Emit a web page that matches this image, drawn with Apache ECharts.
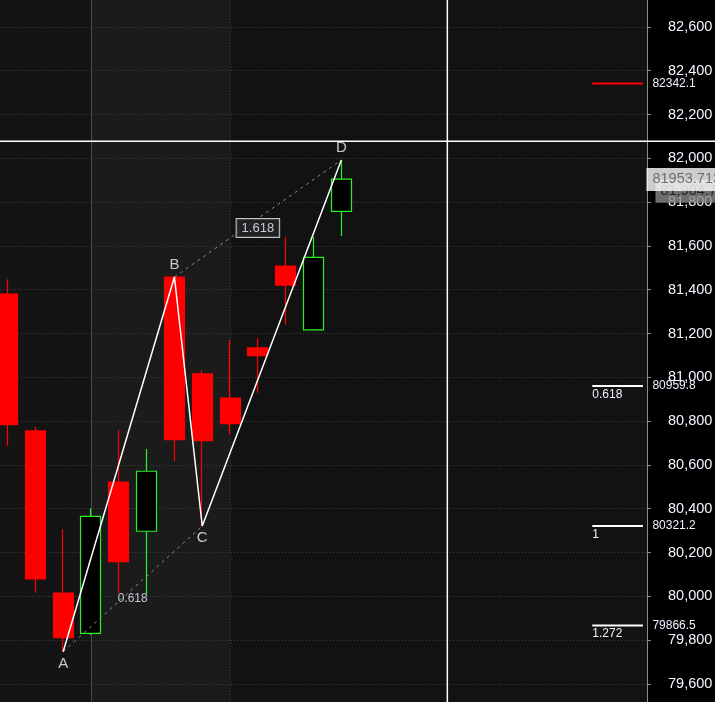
<!DOCTYPE html>
<html><head><meta charset="utf-8">
<script src="https://cdn.jsdelivr.net/npm/echarts@6/dist/echarts.min.js"></script>
<style>html,body{margin:0;padding:0;background:#000;}#c{width:715px;height:702px;}</style>
</head><body><div id="c"></div>
<script>
// ---- data ----
const candleIndex = [0,1,2,3,4,5,6,7,8,9,10,11,12];
const opens  = [81380, 80755, 80015, 79831, 80522, 80297, 81458, 81016, 80905, 81134, 81508, 81217, 81758];
const closes = [80784, 80080, 79811, 80365, 80158, 80571, 80715, 80711, 80788, 81099, 81421, 81548, 81904.7];
const lows   = [80688, 80016, 79747, 79823, 80014, 80009, 80618, 80321, 80738, 80930, 81240, 81217, 81645];
const highs  = [81448, 80773, 80307, 80402, 80759, 80673, 81458, 81033, 81170, 81179, 81641, 81641, 81992];

const patternNames = ['A','B','C','D'];
const patternIdx = [2, 6, 7, 12];
const patternVals = [lows[2], highs[6], lows[7], highs[12]];
const ratioTexts = ['0.618', '1.618'];

const levelValues = [82342.1, 80959.8, 80321.2, 79866.5];
const levelTexts  = ['82342.1', '80959.8', '80321.2', '79866.5'];
const levelRatios = ['', '0.618', '1', '1.272'];

const separators = [3, 8];
const crosshairX = 15.81;
const crosshairY = 82077.6;
const cursorValue = 81953.713;
const lastPrice = closes[closes.length - 1];

const yMin = 79400, yMax = 82800, yStep = 200;
const xMin = -0.2696, xMax = 22.987;
const levelX0 = 21.02, levelX1 = 22.84;

// ---- chart ----
const chart = echarts.init(document.getElementById('c'), null, {renderer: 'canvas'});
const FONT = 'Liberation Sans, Arial, sans-serif';
const TXT = '#eef2ff';

const series = [];

// candles + bands + separators
series.push({
  type: 'candlestick', xAxisIndex: 0, yAxisIndex: 0, z: 3, barWidth: 20.5, clip: true, silent: true,
  data: candleIndex.map((x, i) => [x, opens[i], closes[i], lows[i], highs[i]]),
  itemStyle: {color: '#000000', color0: '#ff0000', borderColor: '#2af02a', borderColor0: '#ff0000', borderWidth: 1.2},
  markArea: {
    silent: true, z: 1,
    data: [
      [{xAxis: xMin, itemStyle: {color: '#141414'}}, {xAxis: separators[0]}],
      [{xAxis: separators[0], itemStyle: {color: '#1b1b1b'}}, {xAxis: separators[1]}],
      [{xAxis: separators[1], itemStyle: {color: '#121212'}}, {xAxis: xMax}]
    ]
  },
  markLine: {
    silent: true, symbol: 'none', z: 2, label: {show: false},
    data: [
      {xAxis: separators[0], lineStyle: {color: '#4a4a4a', type: 'solid', width: 1}},
      {xAxis: separators[1], lineStyle: {color: '#4a4a4a', type: [1, 2], width: 1}}
    ]
  }
});

// dashed A-C and B-D
[[0, 2], [1, 3]].forEach(([a, b]) => {
  series.push({
    type: 'line', xAxisIndex: 0, yAxisIndex: 0, z: 4, silent: true, symbol: 'none',
    data: [[patternIdx[a], patternVals[a]], [patternIdx[b], patternVals[b]]],
    lineStyle: {color: '#8a8a8a', width: 1, type: [3, 4]}
  });
});

// solid ABCD path
series.push({
  type: 'line', xAxisIndex: 0, yAxisIndex: 0, z: 5, silent: true, symbol: 'none',
  data: patternIdx.map((x, i) => [x, patternVals[i]]),
  lineStyle: {color: '#ffffff', width: 1.5}
});

// point letters
series.push({
  type: 'scatter', xAxisIndex: 0, yAxisIndex: 0, z: 6, silent: true, symbolSize: 1,
  itemStyle: {color: 'rgba(0,0,0,0)'},
  data: patternIdx.map((x, i) => ({
    value: [x, patternVals[i]],
    label: {show: true, formatter: patternNames[i], position: (i % 2 === 0) ? 'bottom' : 'top', distance: 4,
            color: TXT, fontSize: 15, fontFamily: FONT}
  }))
});

// ratio labels at midpoints
series.push({
  type: 'scatter', xAxisIndex: 0, yAxisIndex: 0, z: 6, silent: true, symbolSize: 1,
  itemStyle: {color: 'rgba(0,0,0,0)'},
  data: [
    {value: [(patternIdx[0] + patternIdx[2]) / 2, (patternVals[0] + patternVals[2]) / 2],
     label: {show: true, formatter: ratioTexts[0], position: 'inside', offset: [0, 10],
             color: TXT, fontSize: 12, fontFamily: FONT}},
    {value: [(patternIdx[1] + patternIdx[3]) / 2, (patternVals[1] + patternVals[3]) / 2],
     label: {show: true, formatter: ratioTexts[1], position: 'inside', offset: [0, 9.5],
             color: TXT, fontSize: 13, fontFamily: FONT, backgroundColor: '#262626',
             borderColor: '#f0f0f0', borderWidth: 1, padding: [3, 5, 2, 5]}}
  ]
});

// fib levels
levelValues.forEach((v, i) => {
  series.push({
    type: 'line', xAxisIndex: 0, yAxisIndex: 0, z: 5, silent: true, symbol: 'circle', symbolSize: 1,
    showSymbol: true, itemStyle: {color: 'rgba(0,0,0,0)'},
    lineStyle: {color: i === 0 ? '#ff0000' : '#ffffff', width: 2},
    data: [
      {value: [levelX0, v], label: {show: levelRatios[i] !== '', formatter: levelRatios[i], position: 'bottom',
        distance: 2, align: 'left', color: TXT, fontSize: 12, fontFamily: FONT}},
      {value: [levelX1, v], label: {show: true, formatter: levelTexts[i], position: 'right', distance: 9,
        color: TXT, fontSize: 12, fontFamily: FONT}}
    ]
  });
});

// vertical crosshair
series.push({
  type: 'line', xAxisIndex: 0, yAxisIndex: 0, z: 6, silent: true, symbol: 'none',
  data: [[crosshairX, yMin], [crosshairX, yMax]],
  lineStyle: {color: '#ffffff', width: 1.5}
});

// horizontal crosshair across full width
series.push({
  type: 'line', xAxisIndex: 1, yAxisIndex: 1, z: 6, silent: true, symbol: 'none',
  data: [[0, crosshairY], [1, crosshairY]],
  lineStyle: {color: '#ffffff', width: 1.5}
});

// last price box (gray) and cursor value box (white)
series.push({
  type: 'scatter', xAxisIndex: 0, yAxisIndex: 0, z: 9, silent: true, symbolSize: 1,
  itemStyle: {color: 'rgba(0,0,0,0)'},
  data: [{value: [xMax - 0.001, lastPrice],
    label: {show: true, formatter: lastPrice.toLocaleString('en-US', {minimumFractionDigits: 1}),
      position: [9, 1], align: 'left', verticalAlign: 'top', color: '#111', fontSize: 14.5, fontFamily: FONT,
      backgroundColor: '#8a8a8a', padding: [4, 20, 4, 5]}}]
});
series.push({
  type: 'scatter', xAxisIndex: 0, yAxisIndex: 0, z: 10, silent: true, symbolSize: 1,
  itemStyle: {color: 'rgba(0,0,0,0)'},
  data: [{value: [xMax - 0.001, cursorValue],
    label: {show: true, formatter: String(cursorValue),
      position: [0, 0], align: 'left', verticalAlign: 'top', color: '#555', fontSize: 14.5, fontFamily: FONT,
      backgroundColor: '#ffffff', padding: [4, 20, 4, 6]}}]
});

const option = {
  backgroundColor: '#000000',
  animation: false,
  grid: [
    {left: 0, top: -16.9, width: 647, height: 744.6, show: false, containLabel: false, outerBoundsMode: 'none'},
    {left: 0, top: -16.9, width: 715, height: 744.6, show: false, containLabel: false, outerBoundsMode: 'none'}
  ],
  xAxis: [
    {gridIndex: 0, type: 'value', min: xMin, max: xMax, show: false},
    {gridIndex: 1, type: 'value', min: 0, max: 1, show: false}
  ],
  yAxis: [
    {gridIndex: 0, type: 'value', position: 'right', min: yMin, max: yMax, interval: yStep, z: 2,
     axisLine: {show: true, onZero: false, lineStyle: {color: '#8c8c8c', width: 1}},
     axisTick: {show: true, length: 4, lineStyle: {color: '#8c8c8c'}},
     axisLabel: {color: '#f2f5ff', fontSize: 14.5, fontFamily: FONT, margin: 21,
                 formatter: v => v.toLocaleString('en-US')},
     splitLine: {show: true, lineStyle: {color: '#3e3e3e', type: [1, 2], width: 1}}},
    {gridIndex: 1, type: 'value', min: yMin, max: yMax, show: false}
  ],
  series: series
};
chart.setOption(option);
</script>
</body></html>
